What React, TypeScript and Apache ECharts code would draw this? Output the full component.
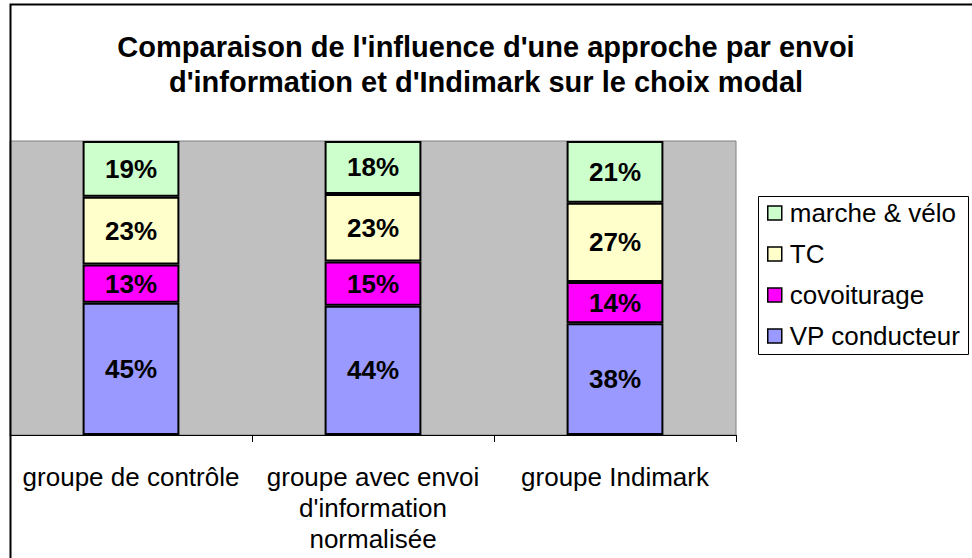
import React, { useEffect, useRef } from "react";
import * as echarts from "echarts";

const categories = [
  "groupe de contrôle",
  "groupe avec envoi\nd'information\nnormalisée",
  "groupe Indimark",
];
const vpConducteur = [45, 44, 38];
const covoiturage = [13, 15, 14];
const tc = [23, 23, 27];
const marcheVelo = [19, 18, 21];
const legendOrder = ["marche & vélo", "TC", "covoiturage", "VP conducteur"];
const titleText =
  "Comparaison de l'influence d'une approche par envoi\nd'information et d'Indimark sur le choix modal";

const FONT = "'Liberation Sans', Arial, Helvetica, sans-serif";

export default function App() {
  const ref = useRef<HTMLDivElement>(null);
  useEffect(() => {
    if (!ref.current) return;
    const chart = echarts.init(ref.current, undefined, { renderer: "svg" });
    const label = {
      show: true,
      position: "inside",
      formatter: "{c}%",
      fontFamily: FONT,
      fontWeight: "bold",
      fontSize: 26,
      color: "#000",
    };
    const mk = (name: string, data: number[], color: string) => ({
      name,
      type: "bar",
      stack: "total",
      data,
      barCategoryGap: "60%",
      itemStyle: { color, borderColor: "#000", borderWidth: 2 },
      label,
    });
    chart.setOption({
      animation: false,
      backgroundColor: "#fff",
      title: {
        text: titleText,
        left: "center",
        top: 24,
        textStyle: {
          fontFamily: FONT,
          fontWeight: "bold",
          fontSize: 29,
          lineHeight: 35,
          color: "#000",
        },
      },
      grid: {
        left: 10,
        right: 236,
        top: 141,
        bottom: 123,
        show: true,
        backgroundColor: "#C0C0C0",
        borderColor: "#808080",
        borderWidth: 1,
      },
      legend: {
        orient: "vertical",
        left: 767,
        top: 200,
        padding: 0,
        itemGap: 15,
        itemWidth: 14,
        itemHeight: 14,
        icon: "rect",
        data: legendOrder,
        itemStyle: { borderColor: "#000", borderWidth: 1.5 },
        textStyle: {
          fontFamily: FONT,
          fontSize: 26,
          lineHeight: 26,
          color: "#000",
          padding: [0, 0, 0, 3],
        },
      },
      xAxis: {
        type: "category",
        data: categories,
        axisLine: { lineStyle: { color: "#000", width: 1 } },
        axisTick: { show: true, length: 7, lineStyle: { color: "#000" } },
        axisLabel: {
          fontFamily: FONT,
          fontSize: 26,
          lineHeight: 31,
          color: "#000",
          margin: 26,
          interval: 0,
        },
      },
      yAxis: {
        type: "value",
        min: 0,
        max: 100,
        show: false,
        splitLine: { show: false },
      },
      graphic: [
        {
          type: "polyline",
          shape: { points: [[10.5, 558], [10.5, 4.5], [972, 4.5]] },
          style: { stroke: "#000", lineWidth: 2, fill: "none" },
          silent: true,
        },
        {
          type: "rect",
          shape: { x: 758.5, y: 196.5, width: 210, height: 158 },
          style: { stroke: "#000", lineWidth: 1, fill: "#fff" },
          z: -1,
          silent: true,
        },
      ],
      series: [
        mk("VP conducteur", vpConducteur, "#9999FF"),
        mk("covoiturage", covoiturage, "#FF00FF"),
        mk("TC", tc, "#FFFFCC"),
        mk("marche & vélo", marcheVelo, "#CCFFCC"),
      ],
    });
    return () => chart.dispose();
  }, []);
  return (
    <div
      ref={ref}
      style={{ position: "fixed", left: 0, top: 0, width: 972, height: 558 }}
    />
  );
}
